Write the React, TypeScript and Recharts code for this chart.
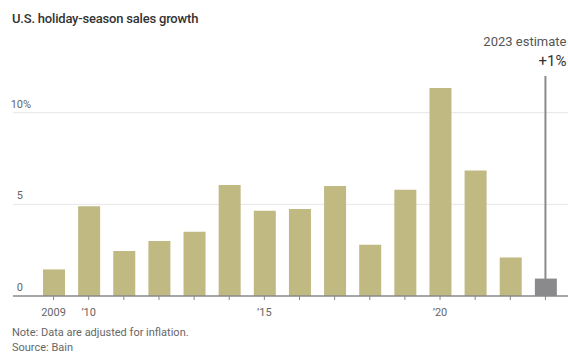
import React from "react"
import { BarChart, Bar, Cell, XAxis, YAxis, CartesianGrid, ReferenceLine } from "recharts"

const years = [2009, 2010, 2011, 2012, 2013, 2014, 2015, 2016, 2017, 2018, 2019, 2020, 2021, 2022, 2023]
const growth = [1.45, 4.9, 2.45, 3.0, 3.5, 6.05, 4.65, 4.75, 6.0, 2.8, 5.8, 11.35, 6.85, 2.1, 0.95]
const labeledYears = [2009, 2010, 2015, 2020]
const estimateYear = 2023
const yTicks = [0, 5, 10]
const gridValues = [5, 10]

const data = years.map((year, i) => ({ year, growth: growth[i] }))

const FONT = 'Roboto, "Liberation Sans", sans-serif'
const BAR = "#c0b982"
const EST = "#8a8a8c"

const fmtYear = (y: number) => {
  if (!labeledYears.includes(y)) return ""
  if (y === 2009) return "2009"
  return "\u2019" + String(y).slice(2)
}

const XTick = (props: any) => {
  const { x, y, payload } = props
  return (
    <text x={x} y={y + 14} textAnchor="middle" fontSize={11} fill="#666" fontFamily={FONT}>
      {fmtYear(payload.value)}
    </text>
  )
}

const YTick = (props: any) => {
  const { y, payload } = props
  return (
    <g>
      <text x={23} y={y - 5} textAnchor="end" fontSize={11} fill="#666" fontFamily={FONT}>
        {payload.value}
      </text>
      {payload.value === 10 && (
        <text x={23} y={y - 5} textAnchor="start" fontSize={11} fill="#666" fontFamily={FONT}>
          %
        </text>
      )}
    </g>
  )
}

const EstimateLabel = (props: any) => {
  const { viewBox } = props
  const x = viewBox.x + 21
  return (
    <g fontFamily={FONT}>
      <text x={x} y={46} textAnchor="end" fontSize={13} fill="#555">
        2023 estimate
      </text>
      <text x={x} y={66} textAnchor="end" fontSize={15} fill="#333">
        +1%
      </text>
    </g>
  )
}

export default function App() {
  return (
    <div style={{ position: "absolute", left: 0, top: 0, width: 568, height: 354, background: "#fff", fontFamily: FONT }}>
      <div style={{ position: "absolute", left: 12, top: 11, fontSize: 13, fontWeight: 500, letterSpacing: -0.2, color: "#333" }}>
        U.S. holiday-season sales growth
      </div>
      <BarChart
        width={568}
        height={354}
        data={data}
        margin={{ top: 76, right: 0, left: 12, bottom: 28 }}
        barCategoryGap={0}
      >
        <CartesianGrid vertical={false} stroke="#e6e6e6" horizontalValues={gridValues} />
        <YAxis
          domain={[0, 12]}
          ticks={yTicks}
          width={1}
          axisLine={false}
          tickLine={false}
          tick={(p: any) => <YTick {...p} />}
        />
        <XAxis
          dataKey="year"
          type="category"
          height={30}
          interval={0}
          padding={{ left: 23, right: 5 }}
          tick={(p: any) => <XTick {...p} />}
          tickSize={4}
          tickLine={{ stroke: "#888" }}
          axisLine={{ stroke: "#888", strokeWidth: 1.5 }}
        />
        <ReferenceLine x={estimateYear} stroke="#8a8a8a" strokeWidth={2} label={<EstimateLabel />} />
        <Bar dataKey="growth" barSize={22} isAnimationActive={false}>
          {data.map((d) => (
            <Cell key={d.year} fill={d.year === estimateYear ? EST : BAR} />
          ))}
        </Bar>
      </BarChart>
      <div style={{ position: "absolute", left: 12, top: 325, fontSize: 11, color: "#666", lineHeight: "15px" }}>
        <div>Note: Data are adjusted for inflation.</div>
        <div>Source: Bain</div>
      </div>
    </div>
  )
}
